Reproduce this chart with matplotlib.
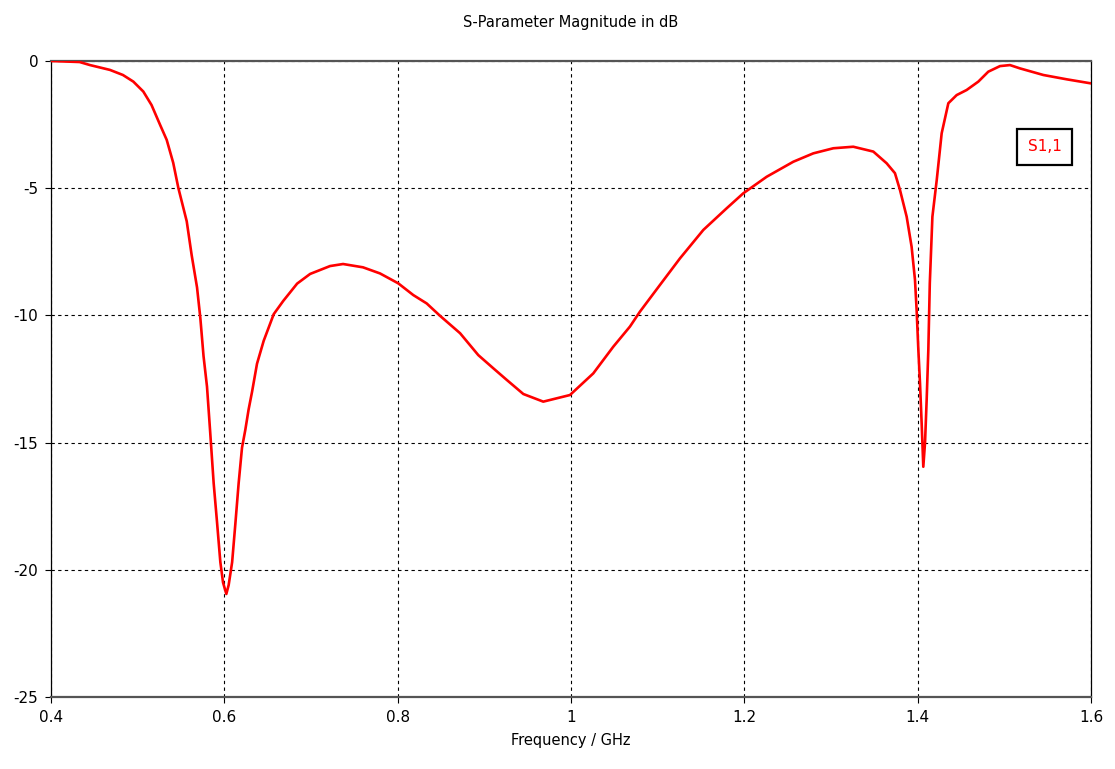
import numpy as np
import matplotlib
matplotlib.use("Agg")
from matplotlib import pyplot as plt

plt.rcParams['axes.unicode_minus'] = False

# S1,1 (GHz, dB)
freq_ghz = [0.400, 0.433, 0.445, 0.468, 0.483, 0.495, 0.5065, 0.516, 0.526, 0.5335,
            0.541, 0.547, 0.5566, 0.5623, 0.5685, 0.5723, 0.576, 0.580, 0.5835, 0.5877,
            0.5915, 0.5954, 0.5985, 0.6023, 0.605, 0.609, 0.6127, 0.6165, 0.6204, 0.6242,
            0.628, 0.632, 0.6377, 0.6454, 0.657, 0.668, 0.684, 0.699, 0.722, 0.737,
            0.760, 0.7796, 0.8007, 0.818, 0.8335, 0.849, 0.872, 0.893, 0.9104, 0.926,
            0.945, 0.968, 0.9988, 1.0257, 1.0488, 1.068, 1.0796, 1.1027, 1.1257, 1.1527,
            1.1796, 1.1988, 1.2258, 1.2565, 1.2796, 1.3027, 1.3257, 1.3488, 1.3642, 1.3738,
            1.3796, 1.3873, 1.393, 1.3969, 1.3988, 1.4008, 1.4027, 1.4046, 1.4065, 1.4085,
            1.4104, 1.4123, 1.414, 1.417, 1.422, 1.4277, 1.4354, 1.445, 1.4565, 1.470,
            1.4815, 1.495, 1.5065, 1.518, 1.545, 1.572, 1.600]
s11_db = [0.00, -0.04, -0.16, -0.35, -0.55, -0.81, -1.20, -1.73, -2.52, -3.10,
          -4.00, -5.00, -6.30, -7.63, -8.90, -10.1, -11.6, -12.8, -14.5, -16.6,
          -18.1, -19.7, -20.5, -20.95, -20.6, -19.7, -18.2, -16.6, -15.2, -14.5,
          -13.7, -13.0, -11.9, -11.0, -9.95, -9.43, -8.75, -8.37, -8.06, -7.98,
          -8.11, -8.35, -8.74, -9.20, -9.53, -10.02, -10.7, -11.56, -12.08, -12.54,
          -13.09, -13.39, -13.13, -12.28, -11.23, -10.44, -9.85, -8.80, -7.76, -6.64,
          -5.79, -5.20, -4.55, -3.96, -3.63, -3.43, -3.37, -3.56, -4.02, -4.41,
          -5.07, -6.12, -7.30, -8.60, -9.79, -11.36, -12.67, -14.24, -15.95, -15.0,
          -13.3, -11.36, -8.74, -6.12, -4.68, -2.84, -1.66, -1.34, -1.14, -0.81,
          -0.42, -0.20, -0.16, -0.29, -0.55, -0.72, -0.88]

x_ticks = [0.4, 0.6, 0.8, 1.0, 1.2, 1.4, 1.6]
x_tick_labels = ['0.4', '0.6', '0.8', '1', '1.2', '1.4', '1.6']
y_ticks = [0, -5, -10, -15, -20, -25]

fig = plt.figure(figsize=(11.15, 7.69), dpi=100)
ax = fig.add_axes([51 / 1115, 1 - 697 / 769, 1040 / 1115, 636 / 769])

ax.plot(freq_ghz, s11_db, color='red', linewidth=1.9, zorder=3)

ax.set_xlim(0.4, 1.6)
ax.set_ylim(-25, 0)
ax.set_xticks(x_ticks)
ax.set_xticklabels(x_tick_labels)
ax.set_yticks(y_ticks)
ax.tick_params(direction='out', length=4, width=0.8, labelsize=11, pad=5)

# dotted grid like the CST plot
ax.grid(True, color='black', linestyle=(0, (3, 3)), linewidth=0.8)

for side in ['top', 'bottom']:
    ax.spines[side].set_color('#555555')
    ax.spines[side].set_linewidth(1.6)
for side in ['left', 'right']:
    ax.spines[side].set_color('black')
    ax.spines[side].set_linewidth(0.9)

ax.set_xlabel('Frequency / GHz', fontsize=10.5, labelpad=6)
fig.text(0.5 * (51 + 1091) / 1115, 1 - 22 / 769, 'S-Parameter Magnitude in dB',
         ha='center', va='center', fontsize=10.5)

# legend label box
ax.text(0.9555, 0.865, 'S1,1', transform=ax.transAxes, color='red', fontsize=11,
        ha='center', va='center',
        bbox=dict(boxstyle='square,pad=0.7', facecolor='white', edgecolor='black', linewidth=1.6))

plt.savefig('out.png', dpi=100)
plt.close()
